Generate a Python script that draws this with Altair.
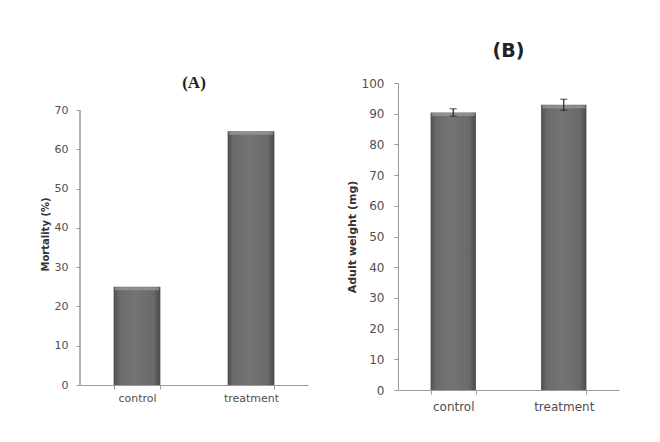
import altair as alt
import pandas as pd

groups = ["control", "treatment"]
mortality = [25.0, 64.6]
weight = [90.4, 92.9]
weight_err = [1.2, 1.8]

dfA = pd.DataFrame({"group": groups, "value": mortality})
dfB = pd.DataFrame({
    "group": groups,
    "value": weight,
    "lo": [w - e for w, e in zip(weight, weight_err)],
    "hi": [w + e for w, e in zip(weight, weight_err)],
})

FONT = "DejaVu Sans"
AXIS_COL = "#9a9a9a"
LABEL_COL = "#505050"

grad = alt.Gradient(
    gradient="linear", x1=0, x2=1, y1=0, y2=0,
    stops=[
        alt.GradientStop(color="#4e4e4e", offset=0),
        alt.GradientStop(color="#6a6a6a", offset=0.12),
        alt.GradientStop(color="#747474", offset=0.45),
        alt.GradientStop(color="#6a6a6a", offset=0.85),
        alt.GradientStop(color="#4a4a4a", offset=1),
    ],
)

# ---------- Panel A ----------
A_H = 302
A_TOP = 70 * A_H / 275.0

xA_axis = alt.Axis(labelAngle=0, tickBand="extent", domainColor=AXIS_COL,
                   tickColor=AXIS_COL, tickSize=4, labelPadding=3,
                   labelFont=FONT, labelFontSize=11, labelColor=LABEL_COL)
xA_scale = alt.Scale(paddingInner=0.59, paddingOuter=0.295)
yA_scale = alt.Scale(domain=[0, A_TOP], nice=False, zero=True)
yA_axis = alt.Axis(values=[0, 10, 20, 30, 40, 50, 60, 70], grid=False,
                   domain=False, tickColor=AXIS_COL, tickSize=4,
                   labelOverlap=False,
                   labelPadding=8, labelFont=FONT, labelFontSize=11,
                   labelColor=LABEL_COL, titleFont=FONT, titleFontSize=10,
                   titleFontWeight="bold", titleColor="#333333",
                   titlePadding=4)

def xA():
    return alt.X("group:N", sort=groups, title=None, scale=xA_scale, axis=xA_axis)

barsA = alt.Chart(dfA).mark_bar(color=grad).encode(
    x=xA(),
    y=alt.Y("value:Q", scale=yA_scale, title="Mortality (%)", axis=yA_axis),
)
capA = alt.Chart(dfA).mark_tick(color="#9c9c9c", thickness=3, size=44, yOffset=2).encode(
    x=xA(), y=alt.Y("value:Q", scale=yA_scale, title="Mortality (%)", axis=yA_axis)
)
axisA = alt.Chart(dfA).mark_rule(color=AXIS_COL).encode(
    x=alt.value(0), y=alt.datum(0, scale=yA_scale), y2=alt.datum(70)
)
chartA = alt.layer(barsA, capA, axisA).properties(
    width=228, height=A_H,
    title=alt.TitleParams("(A)", font="Liberation Serif", fontSize=17,
                          fontWeight="bold", color="#222222", frame="group",
                          baseline="middle", offset=-17, anchor="middle"),
)

# ---------- Panel B ----------
xB_axis = alt.Axis(labelAngle=0, tickBand="extent", domainColor=AXIS_COL,
                   tickColor=AXIS_COL, tickSize=4, labelPadding=7,
                   labelFont=FONT, labelFontSize=12, labelColor=LABEL_COL)
xB_scale = alt.Scale(paddingInner=0.59, paddingOuter=0.295)
yB_scale = alt.Scale(domain=[0, 100], nice=False)
yB_axis = alt.Axis(values=list(range(0, 101, 10)), grid=False,
                   labelOverlap=False, tickCount=11,
                   domainColor=AXIS_COL, tickColor=AXIS_COL, tickSize=4,
                   labelPadding=10, labelFont=FONT, labelFontSize=12,
                   labelColor=LABEL_COL, titleFont=FONT, titleFontSize=11,
                   titleFontWeight="bold", titleColor="#333333",
                   titlePadding=4)

def xB():
    return alt.X("group:N", sort=groups, title=None, scale=xB_scale, axis=xB_axis)

def yB(field):
    return alt.Y(field, scale=yB_scale, title="Adult weight (mg)", axis=yB_axis)

barsB = alt.Chart(dfB).mark_bar(color=grad).encode(x=xB(), y=yB("value:Q"))
capB = alt.Chart(dfB).mark_tick(color="#9c9c9c", thickness=3, size=43, yOffset=2).encode(
    x=xB(), y=yB("value:Q")
)
errB = alt.Chart(dfB).mark_rule(color="#222222", strokeWidth=1.2).encode(
    x=xB(), y=yB("lo:Q"), y2="hi:Q"
)
errLo = alt.Chart(dfB).mark_tick(color="#222222", thickness=1.2, size=7).encode(
    x=xB(), y=yB("lo:Q")
)
errHi = alt.Chart(dfB).mark_tick(color="#222222", thickness=1.2, size=7).encode(
    x=xB(), y=yB("hi:Q")
)
chartB = alt.layer(barsB, capB, errB, errLo, errHi).properties(
    width=221, height=307,
    title=alt.TitleParams("(B)", font=FONT, fontSize=19, fontWeight="bold",
                          color="#222222", frame="group", baseline="middle",
                          offset=7, anchor="middle"),
)

chart = alt.hconcat(chartA, chartB, spacing=38).properties(
    padding={"left": 32, "top": 34, "right": 5, "bottom": 5},
).configure_view(strokeWidth=0, stroke=None)

chart.save("out.html", embed_options={"renderer": "svg", "actions": False})
